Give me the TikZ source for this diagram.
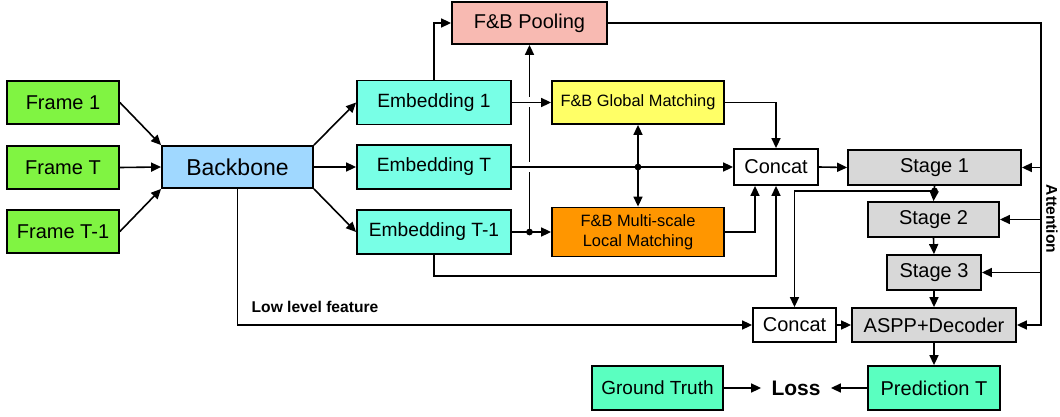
\documentclass[tikz,border=0pt]{standalone}
\usepackage{fontspec}
\setmainfont{Liberation Sans}
\usetikzlibrary{arrows.meta,calc,positioning}

\definecolor{framegreen}{RGB}{128,244,66}
\definecolor{backblue}{RGB}{160,216,255}
\definecolor{embcyan}{RGB}{120,255,230}
\definecolor{poolpink}{RGB}{248,186,178}
\definecolor{globyellow}{RGB}{255,255,102}
\definecolor{locorange}{RGB}{255,150,0}
\definecolor{stagegray}{RGB}{216,216,216}
\definecolor{predgreen}{RGB}{90,255,192}

\begin{document}
\begin{tikzpicture}[x=0.5pt,y=-0.5pt,
  blk/.style={draw,line width=0.9pt,inner sep=0pt,align=center,font=\fontsize{10}{12}\selectfont},
  arr/.style={line width=0.8pt,-{Triangle[length=5pt,width=4.5pt]}},
  lbl/.style={font=\bfseries\fontsize{7.8}{9}\selectfont}]
  \useasboundingbox (0,0) rectangle (1060,417);

  % input frames and backbone
  \node[blk,fill=framegreen,minimum width=56pt,minimum height=21.5pt] (f1) at (63,102.5) {Frame 1};
  \node[blk,fill=framegreen,minimum width=56pt,minimum height=21.5pt] (fT) at (63,167.5) {Frame T};
  \node[blk,fill=framegreen,minimum width=56pt,minimum height=21.5pt] (fT1) at (63,231.5) {Frame T-1};
  \node[blk,fill=backblue,minimum width=75.5pt,minimum height=21pt,font=\fontsize{11.5}{13}\selectfont] (bb) at (237.5,167) {Backbone};

  % embeddings
  \node[blk,fill=embcyan,minimum width=77pt,minimum height=22pt,font=\fontsize{9.6}{11}\selectfont] (e1) at (434,102.5) {Embedding 1};
  \node[blk,fill=embcyan,minimum width=77pt,minimum height=22pt,font=\fontsize{9.6}{11}\selectfont] (eT) at (434,167) {Embedding T};
  \node[blk,fill=embcyan,minimum width=77pt,minimum height=22pt,font=\fontsize{9.6}{11}\selectfont] (eT1) at (434,232) {Embedding T-1};

  % matching blocks
  \node[blk,fill=poolpink,minimum width=77.5pt,minimum height=21pt] (pool) at (529.5,23) {F\&B Pooling};
  \node[blk,fill=globyellow,minimum width=86pt,minimum height=21.5pt,font=\fontsize{8.2}{9.8}\selectfont] (glob) at (638,102.5) {F\&B Global Matching};
  \node[blk,fill=locorange,minimum width=86pt,minimum height=24.5pt,font=\fontsize{8.2}{9.8}\selectfont] (loc) at (638,232) {F\&B Multi-scale\\Local Matching};

  % decoder side
  \node[blk,minimum width=42pt,minimum height=18pt] (cA) at (776,167) {Concat};
  \node[blk,fill=stagegray,minimum width=86.5pt,minimum height=17.5pt] (s1) at (934.5,167.5) {Stage 1};
  \node[blk,fill=stagegray,minimum width=65.5pt,minimum height=17.5pt] (s2) at (933.5,219.5) {Stage 2};
  \node[blk,fill=stagegray,minimum width=47pt,minimum height=17.5pt] (s3) at (934,272.5) {Stage 3};
  \node[blk,fill=stagegray,minimum width=82pt,minimum height=17pt] (aspp) at (934,325) {ASPP+Decoder};
  \node[blk,minimum width=41.5pt,minimum height=17pt] (cB) at (794.5,325) {Concat};
  \node[blk,fill=predgreen,minimum width=66pt,minimum height=22pt] (pred) at (934,388) {Prediction T};
  \node[blk,fill=predgreen,minimum width=65.5pt,minimum height=22pt,font=\fontsize{9.5}{11}\selectfont] (gt) at (657.5,388) {Ground Truth};
  \node[inner ysep=0pt,inner xsep=5pt,font=\bfseries\fontsize{10.5}{12}\selectfont] (loss) at (796,388) {Loss};

  % backbone in and out
  \draw[arr] (f1.east) -- (bb.north west);
  \draw[arr] (fT.east) -- (bb.west);
  \draw[arr] (fT1.east) -- (bb.south west);
  \draw[arr] (bb.north east) -- (e1.west);
  \draw[arr] (bb.east) -- (eT.west);
  \draw[arr] (bb.south east) -- (eT1.west);

  % pooling gets embedding 1 and T-1
  \draw[arr] (e1.north) |- (pool.west);
  \coordinate (j1) at (eT1.east -| pool.south);
  \draw[arr] (j1) -- (pool.south);
  \foreach \y in {102.5,167} \fill[white] (523,\y-5) rectangle (536,\y+5);
  \draw[arr] (e1.east) -- (glob.west);
  \draw[arr] (eT.east) -- (cA.west);
  \draw[arr] (eT1.east) -- (loc.west);
  \fill (j1) circle (1.7pt);

  % T feeds both matchings
  \coordinate (j2) at (eT.east -| glob.south);
  \draw[arr] (j2) -- (glob.south);
  \draw[arr] (j2) -- (loc.north);
  \fill (j2) circle (1.7pt);

  % into the first concat
  \draw[arr] (glob.east) -| (cA.north);
  \draw[arr] (loc.east) -| ([xshift=-10.5pt]cA.south);
  \draw[arr] (eT1.south) -- ++(0,21) -| (cA.south);
  \draw[arr] (cA.east) -- (s1.west);

  % stages
  \coordinate (j3) at ($(s1.south)+(0,5)$);
  \draw[arr] (s1.south) -- (s2.north);
  \fill (j3) circle (1.7pt);
  \draw[arr] (j3) -| (cB.north);
  \draw[arr] (s2.south) -- (s3.north);
  \draw[arr] (s3.south) -- (aspp.north);

  % low level feature
  \draw[arr] (bb.south) |- (cB.west);
  \node[lbl] (lowlbl) at (315,307) {Low level feature};
  \draw[arr] (cB.east) -- (aspp.west);

  % attention bus from pooling
  \coordinate (bus) at (1041,0);
  \draw[arr] (pool.east) -| (bus |- aspp.east) -- (aspp.east);
  \foreach \s in {s1,s2,s3} \draw[arr] (bus |- \s.east) -- (\s.east);
  \node[lbl,rotate=-90] (attlbl) at (1052,219) {Attention};

  % loss
  \draw[arr] (aspp.south) -- (pred.north);
  \draw[arr] (pred.west) -- (loss.east);
  \draw[arr] (gt.east) -- (loss.west);
\end{tikzpicture}
\end{document}
